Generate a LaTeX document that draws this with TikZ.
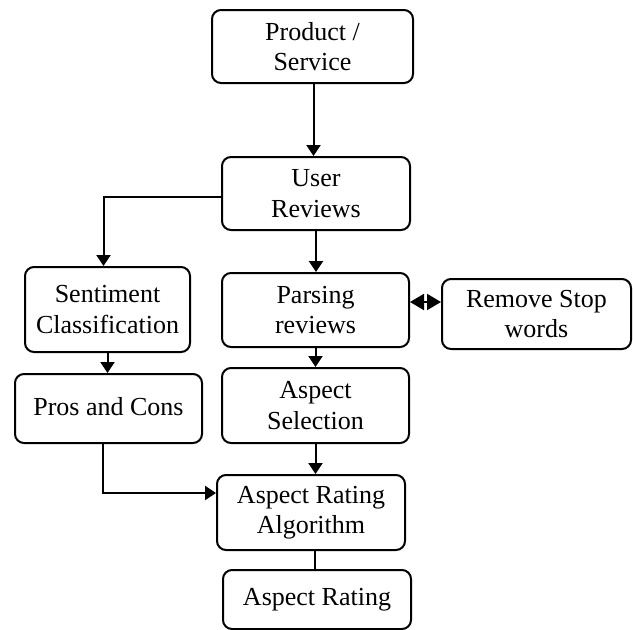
\documentclass[tikz,border=0pt]{standalone}
\usepackage{fontspec}
\setmainfont{Liberation Serif}
\usetikzlibrary{arrows.meta,calc}
\begin{document}
\begin{tikzpicture}[x=1pt,y=-1pt,
  box/.style={draw=black,line width=2pt,rounded corners=9pt,align=center,
    inner sep=0pt,font=\fontsize{26}{30.5}\selectfont},
  conn/.style={line width=2pt},
  arr/.style={conn,-{Triangle[length=11pt,width=14pt]}},
  darr/.style={conn,{Triangle[length=14pt,width=16pt]}-{Triangle[length=14pt,width=16pt]}}]
\useasboundingbox (0,0) rectangle (633,630);
\node[box,minimum width=201pt,minimum height=73pt] (prod) at (312.5,46.5) {Product /\\Service};
\node[box,minimum width=188pt,minimum height=73pt] (ur) at (316,193.5) {User\\Reviews};
\node[box,minimum width=165pt,minimum height=85pt] (sent) at (107.5,309.5) {Sentiment\\Classification};
\node[box,minimum width=187pt,minimum height=74pt] (pars) at (315.5,310) {Parsing\\reviews};
\node[box,minimum width=189pt,minimum height=70pt] (rem) at (536.5,314) {Remove Stop\\words};
\node[box,minimum width=187pt,minimum height=69pt] (pros) at (108.5,408.5) {\raisebox{5pt}{Pros and Cons}};
\node[box,minimum width=187pt,minimum height=75pt] (asp) at (315.5,405.5) {Aspect\\Selection};
\node[box,minimum width=188pt,minimum height=75pt] (ara) at (311,512.5) {Aspect Rating\\Algorithm};
\node[box,minimum width=188pt,minimum height=59pt] (ar) at (317,599.5) {Aspect Rating};
\draw[arr] ([xshift=1pt]prod.south) -- ([xshift=1pt]prod.south |- ur.north);
\draw[arr] ([yshift=-3.5pt]ur.west) -| ([xshift=-4pt]sent.north);
\draw[arr] (ur.south) -- (ur.south |- pars.north);
\draw[darr] ([yshift=8pt]pars.east) -- ([yshift=8pt]pars.east -| rem.west);
\draw[arr] (sent.south) -- (sent.south |- pros.north);
\draw[arr] (pars.south) -- (pars.south |- asp.north);
\draw[arr] (asp.south) -- (asp.south |- ara.north);
\draw[arr] ([xshift=-6pt]pros.south) |- ([yshift=19.5pt]ara.west);
\draw[conn] ([xshift=-2pt]ar.north) -- ([xshift=-2pt]ar.north |- ara.south);
\end{tikzpicture}
\end{document}
